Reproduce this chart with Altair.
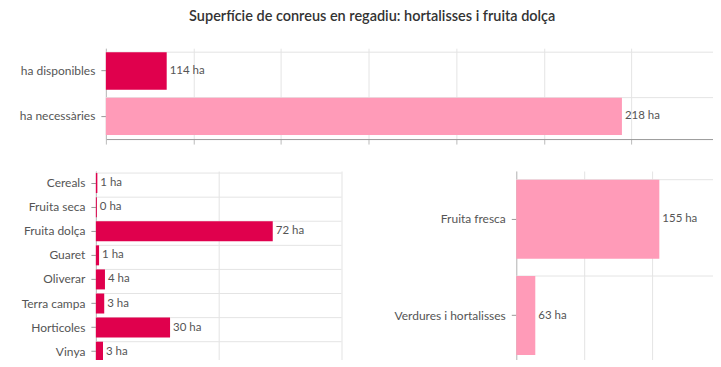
import altair as alt
import pandas as pd

TITLE = "Superfície de conreus en regadiu: hortalisses i fruita dolça"

top_cats = ["ha disponibles", "ha necessàries"]
top_vals = [25.7, 218]
top_labels = ["114 ha", "218 ha"]
top_colors = ["#E0004D", "#FF9BB8"]
top_ticks = [0, 37, 74, 111, 148, 185, 222, 259]

bl_cats = ["Cereals", "Fruita seca", "Fruita dolça", "Guaret", "Oliverar",
           "Terra campa", "Horticoles", "Vinya"]
bl_vals = [0.6, 0.4, 72, 1.3, 3.7, 3.4, 30.2, 2.9]
bl_labels = ["1 ha", "0 ha", "72 ha", "1 ha", "4 ha", "3 ha", "30 ha", "3 ha"]
bl_ticks = [0, 50, 100]

br_cats = ["Fruita fresca", "Verdures i hortalisses"]
br_vals = [158, 21]
br_labels = ["155 ha", "63 ha"]
br_ticks = [0, 75, 150, 225]

DARK = "#E0004D"
PINK = "#FF9BB8"
FONT = "Lato"
GRID = "#e4e4e4"
FS = 11.5
AFS = 12


def panel(cats, vals, labels, colors, ticks, width, height, ext, shift=0,
          pad_in=0.18):
    df = pd.DataFrame({"cat": cats, "val": vals, "lab": labels, "col": colors})
    yaxis = dict(grid=False, ticks=True, tickSize=5, tickColor="#999",
                 domain=True, domainColor="#bbb", labelPadding=6,
                 labelFont=FONT, labelFontSize=AFS, labelColor="#555",
                 minExtent=ext, maxExtent=ext)
    if shift:
        yaxis["offset"] = -shift
    y = alt.Y("cat:N", sort=cats, title=None,
              scale=alt.Scale(paddingInner=pad_in, paddingOuter=pad_in / 2),
              axis=alt.Axis(**yaxis))
    xscale = dict(domain=[ticks[0], ticks[-1]], nice=False)
    if shift:
        xscale["range"] = [shift, width]
    x = alt.X("val:Q", title=None, scale=alt.Scale(**xscale),
              axis=alt.Axis(values=ticks, labels=False, grid=True, gridColor=GRID,
                            tickSize=5, tickColor="#bbb", domainColor="#999"))
    base = alt.Chart(df)
    bars = base.mark_bar().encode(x=x, y=y, color=alt.Color("col:N", scale=None))
    text = base.mark_text(align="left", dx=3, font=FONT, fontSize=FS,
                          color="#555").encode(
        x="val:Q", y=alt.Y("cat:N", sort=cats), text="lab:N")
    rules = base.mark_rule(color=GRID, strokeWidth=1).encode(
        y=alt.Y("cat:N", sort=cats, bandPosition=0),
        x=alt.datum(ticks[0]), x2=alt.datum(ticks[-1]))
    return alt.layer(rules, bars, text).properties(width=width, height=height)


top = panel(top_cats, top_vals, top_labels, top_colors, top_ticks, 624, 91, 88,
            shift=10, pad_in=0.176)
bl = panel(bl_cats, bl_vals, bl_labels, [DARK] * len(bl_cats), bl_ticks, 246, 193, 88,
           pad_in=0.17)
br = panel(br_cats, br_vals, br_labels, [PINK] * len(br_cats), br_ticks, 204, 193, 124)

bottom = alt.hconcat(bl, br, spacing=50)

chart = alt.vconcat(top, bottom, spacing=26).properties(
    padding={"left": 0, "top": 0, "right": -8, "bottom": -10},
    title=alt.TitleParams(TITLE, font=FONT, fontSize=14.5, fontWeight=600,
                          color="#333", anchor="middle", offset=24, dx=8),
).configure_view(stroke=None)

chart.save("out.html", embed_options={"renderer": "svg", "actions": False})
